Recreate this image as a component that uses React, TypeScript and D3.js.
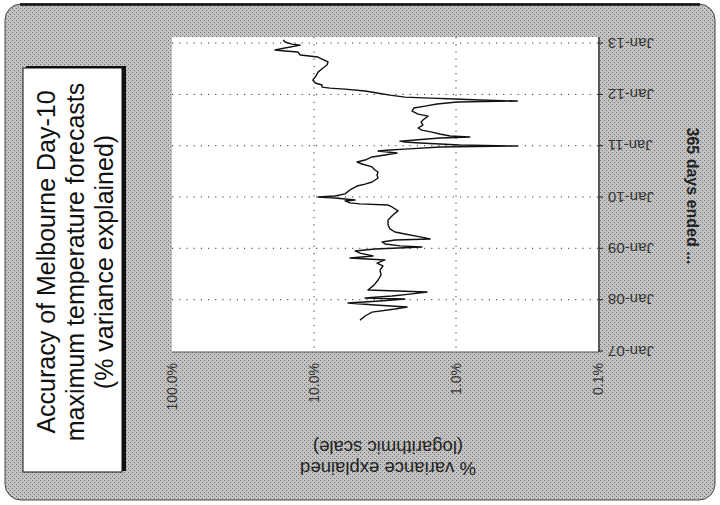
import React from "react";
import * as d3 from "d3";

const dates: string[] = [
  "2007-08-09","2007-09-07","2007-10-05","2007-10-27","2007-11-10","2007-11-24","2007-12-09","2007-12-23",
  "2008-01-06","2008-01-13","2008-01-27","2008-02-10","2008-02-25","2008-03-10","2008-04-14","2008-05-20",
  "2008-06-25","2008-07-30","2008-08-28","2008-09-18","2008-10-10","2008-10-24","2008-11-07","2008-11-28",
  "2008-12-13","2008-12-27","2009-01-10","2009-01-18","2009-02-01","2009-02-15","2009-03-01","2009-03-08",
  "2009-03-23","2009-04-13","2009-04-27","2009-05-19","2009-06-16","2009-07-22","2009-08-26","2009-09-24",
  "2009-10-22","2009-11-05","2009-11-13","2009-11-20","2009-12-04","2009-12-11","2009-12-25","2010-01-01",
  "2010-01-08","2010-01-23","2010-02-20","2010-03-20","2010-04-03","2010-04-18","2010-05-16","2010-06-07",
  "2010-06-28","2010-07-12","2010-08-03","2010-08-24","2010-09-07","2010-09-21","2010-10-13","2010-10-27",
  "2010-11-10","2010-11-24","2010-12-02","2010-12-08","2010-12-23","2010-12-30","2011-01-06","2011-01-13",
  "2011-01-20","2011-01-27","2011-02-03","2011-02-11","2011-02-25","2011-03-04","2011-03-11","2011-03-25",
  "2011-04-08","2011-04-22","2011-05-07","2011-05-28","2011-06-18","2011-07-03","2011-07-31","2011-08-14",
  "2011-09-05","2011-09-26","2011-10-10","2011-10-25","2011-11-08","2011-11-15","2011-11-22","2011-11-29",
  "2011-12-06","2011-12-13","2011-12-27","2012-01-11","2012-01-25","2012-02-08","2012-02-15","2012-02-22",
  "2012-03-08","2012-03-22","2012-04-12","2012-05-11","2012-06-08","2012-07-07","2012-07-28","2012-08-19",
  "2012-09-09","2012-09-23","2012-10-08","2012-10-29","2012-11-05","2012-11-12","2012-11-26","2012-12-17",
  "2012-12-24","2013-01-08","2013-01-23"
];

const varianceExplained: number[] = [
  4.74,4.37,3.90,2.69,2.21,3.72,5.76,3.43,
  2.29,4.37,2.82,2.11,1.60,4.17,3.78,3.54,
  3.37,3.43,3.27,3.60,3.16,5.58,3.84,4.74,
  5.14,3.72,1.74,2.48,3.16,3.32,2.69,1.52,
  1.79,2.29,2.69,2.92,3.01,3.01,2.78,2.56,
  2.82,3.01,4.74,5.58,6.05,5.14,7.12,9.37,
  7.12,6.05,5.58,4.98,4.37,3.90,3.54,3.60,
  3.54,3.72,3.90,4.59,4.98,4.37,3.90,3.16,
  2.60,3.54,2.92,2.29,1.30,0.37,0.94,1.30,
  1.79,2.29,2.48,1.94,1.30,0.80,1.10,1.30,
  1.48,1.74,1.85,1.71,1.76,1.71,1.57,1.85,
  2.04,1.98,1.65,1.36,0.98,0.37,0.68,1.02,
  1.52,2.29,2.92,3.60,4.37,6.05,7.72,8.78,
  8.78,9.8,10.2,9.68,9.37,8.64,8.10,7.97,
  8.78,9.37,12.5,13.0,16.0,18.8,16.0,12.5,
  14.3,16.0,16.5
];

const dateTicks: string[] = ["2007-01-01","2008-01-01","2009-01-01","2010-01-01","2011-01-01","2012-01-01","2013-01-01"];
const dateTickLabels: string[] = ["Jan-07","Jan-08","Jan-09","Jan-10","Jan-11","Jan-12","Jan-13"];
const valueTicks: number[] = [100, 10, 1, 0.1];
const valueTickLabels: string[] = ["100.0%", "10.0%", "1.0%", "0.1%"];
const titleLines: string[] = ["Accuracy of Melbourne Day-10", "maximum temperature forecasts", "(% variance explained)"];
const valueAxisTitle: string[] = ["% variance explained", "(logarithmic scale)"];
const dateAxisTitle = "365 days ended ...";

const FONT = "'Liberation Sans', Arial, Helvetica, sans-serif";

export default function App() {
  const W = 720, H = 505;
  const plotLeft = 172, plotRight = 598, plotTop = 37, plotBottom = 352;
  const parse = d3.timeParse("%Y-%m-%d");
  const xVal = d3.scaleLog().domain([100, 0.1]).range([plotLeft, plotRight]);
  const yDate = d3.scaleTime()
    .domain([parse("2007-01-01")!, parse("2013-01-01")!])
    .range([351, 43]);

  const pts = dates.map((d, i) => ({ date: parse(d)!, v: varianceExplained[i] }));
  const line = d3.line<{ date: Date; v: number }>()
    .x((p) => xVal(p.v))
    .y((p) => yDate(p.date));

  return (
    <svg width={W} height={H} style={{ position: "absolute", left: 0, top: 0 }} xmlns="http://www.w3.org/2000/svg">
      <defs>
        <pattern id="halftone" width="4" height="4" patternUnits="userSpaceOnUse">
          <rect width="4" height="4" fill="#c2c2c2" />
          <rect x="0" y="0" width="1" height="1" fill="#6e6e6e" />
          <rect x="2" y="2" width="1" height="1" fill="#6e6e6e" />
        </pattern>
      </defs>
      <rect width={W} height={H} fill="#ffffff" />
      {/* frame */}
      <rect x={5} y={4} width={710} height={496} rx={16} ry={16} fill="url(#halftone)" stroke="#444" strokeWidth={1} />
      <line x1={20} y1={4.5} x2={700} y2={4.5} stroke="#111" strokeWidth={2.5} />

      {/* plot area */}
      <rect x={plotLeft} y={plotTop} width={plotRight - plotLeft} height={plotBottom - plotTop} fill="#fff" />

      {/* gridlines */}
      {dateTicks.slice(1).map((d, i) => (
        <line key={"hg" + i} x1={plotLeft} x2={plotRight} y1={yDate(parse(d)!)} y2={yDate(parse(d)!)}
          stroke="#333" strokeWidth={1} strokeDasharray="1.2,6" />
      ))}
      {valueTicks.slice(1, 3).map((v, i) => (
        <line key={"vg" + i} x1={xVal(v)} x2={xVal(v)} y1={plotTop} y2={plotBottom}
          stroke="#333" strokeWidth={1} strokeDasharray="1.2,6" />
      ))}

      {/* axes */}
      <line x1={plotLeft} x2={plotRight + 1} y1={plotBottom} y2={plotBottom} stroke="#555" strokeWidth={1.2} />
      <line x1={plotRight + 1} x2={plotRight + 1} y1={plotTop} y2={plotBottom} stroke="#222" strokeWidth={1.3} />
      {dateTicks.map((d, i) => (
        <line key={"dt" + i} x1={plotRight + 1} x2={plotRight + 5} y1={yDate(parse(d)!)} y2={yDate(parse(d)!)}
          stroke="#222" strokeWidth={1} />
      ))}

      {/* data line */}
      <path d={line(pts) || ""} fill="none" stroke="#111" strokeWidth={1.4} strokeLinejoin="round" />

      {/* date tick labels (rotated 180) */}
      {dateTicks.map((d, i) => {
        const y = yDate(parse(d)!);
        return (
          <text key={"dl" + i} transform={`translate(608,${y}) rotate(180)`} textAnchor="end"
            dominantBaseline="central" fontFamily={FONT} fontSize={15} fill="#333">
            {dateTickLabels[i]}
          </text>
        );
      })}

      {/* value tick labels (rotated -90) */}
      {valueTicks.map((v, i) => (
        <text key={"vl" + i} transform={`translate(${xVal(v)},363) rotate(-90)`} textAnchor="end"
          dominantBaseline="central" fontFamily={FONT} fontSize={14} fill="#333">
          {valueTickLabels[i]}
        </text>
      ))}

      {/* value axis title (rotated 180) */}
      {valueAxisTitle.map((t, i) => (
        <text key={"vt" + i} transform={`translate(388,${468 - i * 21}) rotate(180)`} textAnchor="middle"
          dominantBaseline="central" fontFamily={FONT} fontSize={18.5} fill="#222">
          {t}
        </text>
      ))}

      {/* date axis title (rotated 90) */}
      <text transform="translate(692,196) rotate(90)" textAnchor="middle" dominantBaseline="central"
        fontFamily={FONT} fontSize={16} fontWeight="bold" fill="#222">
        {dateAxisTitle}
      </text>

      {/* title box */}
      <rect x={26} y={66} width={100} height={405} fill="#111" />
      <rect x={23} y={68} width={99} height={404} fill="#fff" stroke="#111" strokeWidth={1} />
      {titleLines.map((t, i) => (
        <text key={"tt" + i} transform={`translate(${46 + i * 29},262) rotate(-90)`} textAnchor="middle"
          dominantBaseline="central" fontFamily={FONT} fontSize={25} fill="#111">
          {t}
        </text>
      ))}
    </svg>
  );
}
